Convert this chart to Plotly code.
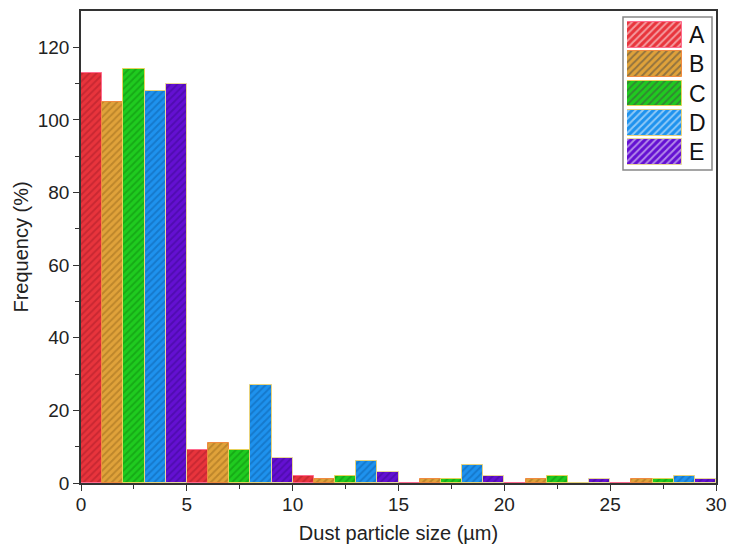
import plotly.graph_objects as go

bin_centers = [2.5, 7.5, 12.5, 17.5, 22.5, 27.5]
series_names = ["A", "B", "C", "D", "E"]
A = [113, 9, 2, 0, 0, 0]
B = [105, 11, 1, 1, 1, 1]
C = [114, 9, 2, 1, 2, 1]
D = [108, 27, 6, 5, 0, 2]
E = [110, 7, 3, 2, 1, 1]
series_values = [A, B, C, D, E]
x_ticks = [0, 5, 10, 15, 20, 25, 30]
y_ticks = [0, 20, 40, 60, 80, 100, 120]

fill_colors = ["#E8343C", "#E0A23A", "#1FCB1F", "#1E92EE", "#6410D2"]
hatch_colors = ["#A81C28", "#9A6A1C", "#0E8A0E", "#0D5FA8", "#3C0890"]
edge_colors = ["#FF6A8E", "#F08A40", "#E6D25A", "#E8D27A", "#E8D89A"]

fig = go.Figure()
for name, vals, fc, hc, ec in zip(series_names, series_values, fill_colors, hatch_colors, edge_colors):
    fig.add_trace(go.Bar(
        x=bin_centers, y=vals, name=name, showlegend=False,
        marker=dict(color=fc, line=dict(color=ec, width=1),
                    pattern=dict(shape="/", fgcolor=hc, bgcolor=fc, size=5, solidity=0.4)),
        xaxis="x", yaxis="y",
    ))

# legend swatches drawn as horizontal bars on an inset axis
legend_pos = [4, 3, 2, 1, 0]
fig.add_trace(go.Bar(
    x=[1] * 5, y=legend_pos, orientation="h", width=0.88, showlegend=False,
    marker=dict(color=fill_colors, line=dict(color=edge_colors, width=1),
                pattern=dict(shape="/", fgcolor=hatch_colors, bgcolor=fill_colors, size=5, solidity=0.4)),
    xaxis="x2", yaxis="y2", hoverinfo="skip",
))

FONT = "Liberation Sans, Arial, sans-serif"
tick_font = dict(family=FONT, size=19, color="#222")

L, R, T, B_ = 81, 13, 11, 67
PW = 729 - L - R
PH = 550 - T - B_

def px(x):
    return (x - L) / PW

def py(y):
    return (550 - B_ - y) / PH

fig.update_layout(
    width=729, height=550,
    margin=dict(l=L, r=R, t=T, b=B_, autoexpand=False),
    paper_bgcolor="white", plot_bgcolor="white",
    barmode="group", bargap=0, bargroupgap=0,
    font=tick_font,
    xaxis=dict(
        range=[0, 30], tickvals=x_ticks, ticks="outside", ticklen=6, tickwidth=1.2,
        tickcolor="#333", showline=True, linecolor="#333", linewidth=1.5, mirror=True,
        showgrid=False, zeroline=False, automargin=False, ticklabelstandoff=-3,
        minor=dict(tickvals=[2.5, 7.5, 12.5, 17.5, 22.5, 27.5], ticks="outside", ticklen=4, tickcolor="#333"),
        title=dict(text="Dust particle size (µm)", font=dict(family=FONT, size=20, color="#222"), standoff=12),
        tickfont=tick_font,
    ),
    yaxis=dict(
        range=[0, 130], tickvals=y_ticks, ticks="outside", ticklen=6, tickwidth=1.2,
        tickcolor="#333", showline=True, linecolor="#333", linewidth=1.5, mirror=True,
        showgrid=False, zeroline=False, automargin=False,
        minor=dict(tickvals=[10, 30, 50, 70, 90, 110], ticks="outside", ticklen=4, tickcolor="#333"),
        title=dict(text="Frequency (%)", font=dict(family=FONT, size=20, color="#222"), standoff=4),
        tickfont=tick_font,
    ),
    xaxis2=dict(domain=[px(627), px(682)], range=[0, 1], visible=False, anchor="y2", fixedrange=True),
    yaxis2=dict(domain=[py(167), py(20)], range=[-0.5, 4.5], visible=False, anchor="x2", fixedrange=True),
)

# legend frame
fig.add_shape(type="rect", xref="paper", yref="paper",
              x0=px(623), x1=px(712), y0=py(170), y1=py(17),
              line=dict(color="#888", width=1.5), fillcolor="white", layer="below")

y_top, y_bot = py(20), py(167)
for i, name in enumerate(series_names):
    yc = y_top - (i + 0.5) * (y_top - y_bot) / 5
    fig.add_annotation(x=px(687), y=yc, xref="paper", yref="paper", text=name, showarrow=False,
                       xanchor="left", yanchor="middle",
                       font=dict(family=FONT, size=23, color="#111"))

fig.write_html("out.html")
